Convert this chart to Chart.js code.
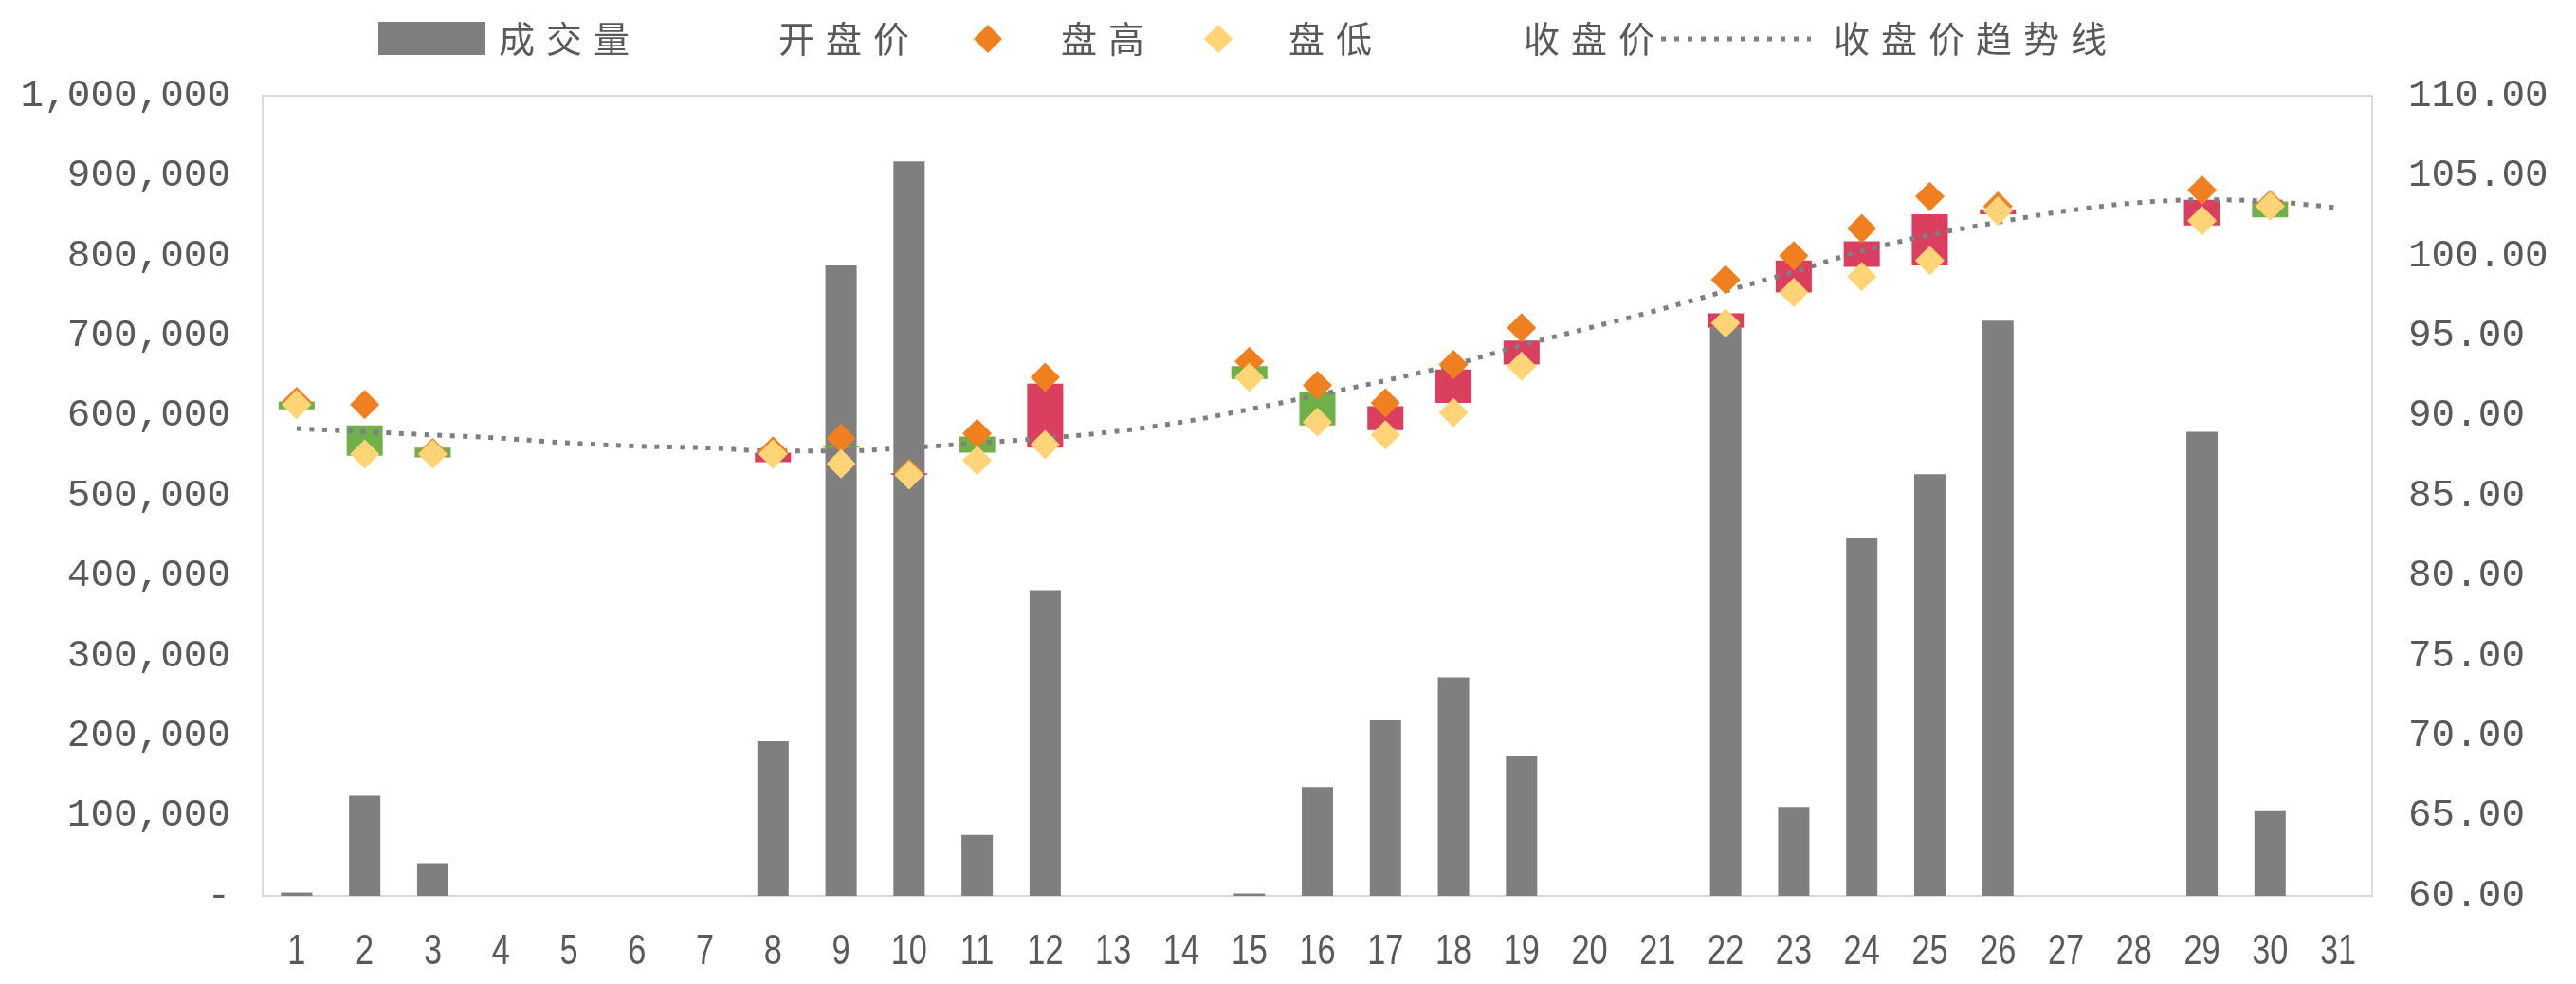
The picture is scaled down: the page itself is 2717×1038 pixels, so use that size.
<!DOCTYPE html>
<html>
<head>
<meta charset="utf-8">
<script src="https://cdn.jsdelivr.net/npm/chart.js@4.4.1/dist/chart.umd.min.js"></script>
<style>
html,body{margin:0;padding:0;background:#ffffff;}
#wrap{width:2717px;height:1038px;position:relative;}
</style>
</head>
<body>
<div id="wrap"><canvas id="c" width="2717" height="1038"></canvas></div>
<script>
// ---------- data ----------
const days = ['1','2','3','4','5','6','7','8','9','10','11','12','13','14','15','16','17','18','19','20','21','22','23','24','25','26','27','28','29','30','31'];
const volume = [4000,125000,41000,null,null,null,null,193000,788000,918000,76000,382000,null,null,3000,136000,220000,273000,175000,null,null,710000,111000,448000,527000,719000,null,null,580000,107000,null];
const openPrice  = [90.4,87.5,87.4,null,null,null,null,87.7,88.0,86.4,87.7,92.0,null,null,92.3,89.4,90.6,92.9,94.7,null,null,96.4,99.7,100.9,102.6,102.9,null,null,103.5,102.4,null];
const highPrice  = [90.9,90.7,87.7,null,null,null,null,87.8,88.6,86.4,88.9,92.4,null,null,93.4,91.9,90.8,93.2,95.5,null,null,98.5,100.0,101.7,103.7,103.1,null,null,104.1,103.2,null];
const lowPrice   = [90.7,87.6,87.6,null,null,null,null,87.6,87.0,86.3,87.2,88.2,null,null,92.4,89.6,88.8,90.2,93.1,null,null,95.8,97.7,98.7,99.7,102.8,null,null,102.2,103.1,null];
const closePrice = [90.9,89.4,88.0,null,null,null,null,87.1,88.1,86.3,88.7,88.0,null,null,93.1,91.5,89.1,90.8,93.2,null,null,95.5,97.7,99.3,99.4,102.6,null,null,101.9,103.4,null];
const closeTrend = [89.2,89.0,88.8,88.6,88.3,88.1,88.0,87.8,87.8,88.0,88.3,88.6,89.0,89.6,90.4,91.3,92.2,93.2,94.4,95.5,96.6,97.8,99.0,100.3,101.3,102.1,102.8,103.3,103.5,103.4,103.0];
const volumeTicks = [0,100000,200000,300000,400000,500000,600000,700000,800000,900000,1000000];
const priceTicks = [60,65,70,75,80,85,90,95,100,105,110];
const legendLabels = ['成交量','开盘价','盘高','盘低','收盘价','收盘价趋势线'];

// ---------- styles ----------
const COL_VOL = '#7f7f7f';
const COL_UP = '#70b04a';
const COL_DOWN = '#da3f5f';
const COL_HIGH = '#f0801f';
const COL_LOW = '#ffd477';
const COL_TREND = '#7f7f7f';
const COL_TEXT = '#595959';
const MONO = "'Liberation Mono','DejaVu Sans Mono',monospace";
const SANS = "'Liberation Sans','DejaVu Sans',sans-serif";
const CJK = "'Noto Sans CJK SC','Noto Sans',sans-serif";

const upDown = days.map((d, i) => (openPrice[i] == null || closePrice[i] == null) ? null : [openPrice[i], closePrice[i]]);
const upDownColors = days.map((d, i) => (closePrice[i] != null && closePrice[i] >= openPrice[i]) ? COL_UP : COL_DOWN);

// category scale whose tick labels are drawn horizontally condensed
class NarrowCategoryScale extends Chart.CategoryScale {
  drawLabels(chartArea) {
    const ctx = this.ctx;
    let items;
    try { items = this.getLabelItems(chartArea); } catch (e) { return super.drawLabels(chartArea); }
    for (const item of items) {
      const o = item.options || {};
      const tr = o.translation || [0, 0];
      ctx.save();
      ctx.translate(tr[0], tr[1]);
      ctx.scale(0.78, 1);
      ctx.font = item.font.string;
      ctx.fillStyle = o.color || COL_TEXT;
      ctx.textAlign = 'center';
      ctx.textBaseline = 'middle';
      ctx.fillText(String(item.label), 0, item.textOffset || 0);
      ctx.restore();
    }
  }
}
NarrowCategoryScale.id = 'narrowCategory';
NarrowCategoryScale.defaults = Chart.CategoryScale.defaults;
Chart.register(NarrowCategoryScale);

const framePlugin = {
  id: 'frame',
  beforeDatasetsDraw(chart) {
    const a = chart.chartArea, ctx = chart.ctx;
    ctx.save();
    ctx.strokeStyle = '#d9d9d9';
    ctx.lineWidth = 2;
    ctx.strokeRect(a.left, a.top, a.right - a.left, a.bottom - a.top);
    ctx.restore();
  }
};

const legendPlugin = {
  id: 'xlLegend',
  afterDraw(chart) {
    const ctx = chart.ctx;
    const cy = 41;
    ctx.save();
    ctx.textBaseline = 'middle';
    ctx.textAlign = 'left';
    ctx.font = '38px ' + CJK;
    try { ctx.letterSpacing = '12px'; } catch (e) {}
    ctx.fillStyle = COL_VOL;
    ctx.fillRect(399, 23, 113, 35);
    ctx.fillStyle = COL_TEXT;
    ctx.fillText(legendLabels[0], 526, cy);
    ctx.fillText(legendLabels[1], 821, cy);
    const diamond = (x, col) => {
      ctx.fillStyle = col;
      ctx.beginPath();
      ctx.moveTo(x - 15, cy); ctx.lineTo(x, cy - 15); ctx.lineTo(x + 15, cy); ctx.lineTo(x, cy + 15);
      ctx.closePath(); ctx.fill();
    };
    diamond(1042, COL_HIGH);
    ctx.fillStyle = COL_TEXT;
    ctx.fillText(legendLabels[2], 1119, cy);
    diamond(1285, COL_LOW);
    ctx.fillStyle = COL_TEXT;
    ctx.fillText(legendLabels[3], 1359, cy);
    ctx.fillText(legendLabels[4], 1607, cy);
    ctx.save();
    try { ctx.letterSpacing = '0px'; } catch (e) {}
    ctx.strokeStyle = COL_TREND;
    ctx.lineWidth = 5;
    ctx.setLineDash([5, 9]);
    ctx.beginPath(); ctx.moveTo(1752, cy); ctx.lineTo(1910, cy); ctx.stroke();
    ctx.restore();
    ctx.fillStyle = COL_TEXT;
    ctx.fillText(legendLabels[5], 1934, cy);
    ctx.restore();
  }
};

new Chart(document.getElementById('c'), {
  type: 'bar',
  data: {
    labels: days,
    datasets: [
      { type: 'bar', label: legendLabels[0], data: volume, yAxisID: 'yV', backgroundColor: COL_VOL,
        barPercentage: 0.46, categoryPercentage: 1, grouped: false, order: 10 },
      { type: 'bar', label: 'updown', data: upDown, yAxisID: 'yP', backgroundColor: upDownColors,
        barPercentage: 0.53, categoryPercentage: 1, grouped: false, borderSkipped: false, order: 9 },
      { type: 'line', label: legendLabels[1], data: openPrice, yAxisID: 'yP', showLine: false, pointRadius: 0, order: 8 },
      { type: 'line', label: legendLabels[4], data: closePrice, yAxisID: 'yP', showLine: false, pointRadius: 0, order: 7 },
      { type: 'line', label: legendLabels[5], data: closeTrend, yAxisID: 'yP', borderColor: COL_TREND,
        borderWidth: 5, borderDash: [5, 8.5], borderCapStyle: 'butt', pointRadius: 0, tension: 0.4,
        cubicInterpolationMode: 'monotone', fill: false, order: 3 },
      { type: 'line', label: legendLabels[2], data: highPrice, yAxisID: 'yP', showLine: false,
        pointStyle: 'rectRot', pointRadius: 15.5, pointBackgroundColor: COL_HIGH, pointBorderWidth: 0,
        pointBorderColor: COL_HIGH, order: 2 },
      { type: 'line', label: legendLabels[3], data: lowPrice, yAxisID: 'yP', showLine: false,
        pointStyle: 'rectRot', pointRadius: 15.5, pointBackgroundColor: COL_LOW, pointBorderWidth: 0,
        pointBorderColor: COL_LOW, order: 1 }
    ]
  },
  options: {
    responsive: false,
    animation: false,
    devicePixelRatio: 1,
    layout: { padding: { top: 101, left: 0, right: 0, bottom: 0 } },
    plugins: { legend: { display: false }, tooltip: { enabled: false }, title: { display: false } },
    scales: {
      x: {
        type: 'narrowCategory',
        offset: true,
        grid: { display: false, drawTicks: false },
        border: { display: false },
        ticks: { color: COL_TEXT, font: { family: SANS, size: 44 }, padding: 33, maxRotation: 0, autoSkip: false },
        afterFit(s) { s.height = 93; }
      },
      yV: {
        type: 'linear',
        position: 'left',
        min: 0, max: 1000000,
        grid: { display: false, drawTicks: false },
        border: { display: false },
        afterBuildTicks(s) { s.ticks = volumeTicks.map(v => ({ value: v })); },
        ticks: {
          color: COL_TEXT, font: { family: MONO, size: 41 }, padding: 34,
          callback: (v) => v === 0 ? '-' : Number(v).toLocaleString('en-US')
        },
        afterFit(s) { s.width = 277; }
      },
      yP: {
        type: 'linear',
        position: 'right',
        min: 60, max: 110,
        grid: { display: false, drawTicks: false },
        border: { display: false },
        afterBuildTicks(s) { s.ticks = priceTicks.map(v => ({ value: v })); },
        ticks: {
          color: COL_TEXT, font: { family: MONO, size: 41 }, padding: 38,
          callback: (v) => Number(v).toFixed(2)
        },
        afterFit(s) { s.width = 215; }
      }
    }
  },
  plugins: [framePlugin, legendPlugin]
});
</script>
</body>
</html>
